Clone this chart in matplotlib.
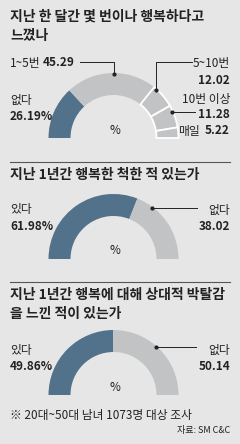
import numpy as np
import matplotlib
matplotlib.use("Agg")
import matplotlib.pyplot as plt

plt.rcParams['font.family'] = ['Noto Sans CJK KR', 'DejaVu Sans']

# --- data -------------------------------------------------------------
titles = ["지난 한 달간 몇 번이나 행복하다고\n느꼈나",
          "지난 1년간 행복한 척한 적 있는가",
          "지난 1년간 행복에 대해 상대적 박탈감\n을 느낀 적이 있는가"]

q1_labels = ["없다", "1~5번", "5~10번", "10번 이상", "매일"]
q1_values = [26.19, 45.29, 12.02, 11.28, 5.22]

q2_labels = ["있다", "없다"]
q2_values = [61.98, 38.02]

q3_labels = ["있다", "없다"]
q3_values = [49.86, 50.14]

note = "※ 20대~50대 남녀 1073명 대상 조사"
source = "자료: SM C&C"

# --- style ------------------------------------------------------------
W, H = 240, 444
BG = "#e6e6e6"
DARK = "#52718a"
GRAY = "#c2c3c5"
TXT = "#222222"
R_OUT, R_W = 65, 22
CX = 113.5


def Y(y):
    return H - y


fig = plt.figure(figsize=(W / 100, H / 100), dpi=100, facecolor=BG)
ax = fig.add_axes([0, 0, 1, 1])
ax.set_facecolor(BG)


def half_donut(values, cy, white_edges=False):
    vals = np.array(values) / 200.0
    colors = [DARK] + [GRAY] * (len(values) - 1)
    wedges, _ = ax.pie(vals, normalize=False, colors=colors, startangle=180,
                       counterclock=False, center=(CX, Y(cy)), radius=R_OUT,
                       wedgeprops=dict(width=R_W, linewidth=0))
    if white_edges:
        for w in wedges[2:]:
            w.set_edgecolor("white")
            w.set_linewidth(1.3)
    ax.text(CX + 1, Y(cy - 8), "%", ha="center", va="center", fontsize=8.5, color=TXT)
    return wedges


def anchor(values, i, frac, cy, r=64):
    start = 180 - sum(values[:i]) * 1.8
    ang = np.deg2rad(start - values[i] * 1.8 * frac)
    return CX + r * np.cos(ang), Y(cy) + r * np.sin(ang)


def leader(pts):
    xs, ys = zip(*pts)
    ax.plot(xs, ys, color=TXT, lw=0.7)
    ax.plot(xs[0], ys[0], "o", color=TXT, ms=2)


lab = dict(fontsize=8.5, color=TXT, va="center")
bold = dict(fontsize=8.5, color=TXT, va="center", fontweight="bold")
ttl = dict(fontsize=10, color=TXT, va="top", ha="left", fontweight="bold", linespacing=1.45)

# --- chart 1 ----------------------------------------------------------
ax.text(10, Y(10), titles[0], **ttl)
cy1 = 138
half_donut(q1_values, cy1, white_edges=True)

ax.text(10, Y(63), q1_labels[1], ha="left", **lab)
ax.text(43, Y(63), f"{q1_values[1]:.2f}", ha="left", **bold)
x, y = anchor(q1_values, 1, 0.53, cy1)
leader([(x, y), (x, Y(62)), (80, Y(62))])

ax.text(10, Y(100), q1_labels[0], ha="left", **lab)
ax.text(10, Y(117), f"{q1_values[0]:.2f}%", ha="left", **bold)

ax.text(230, Y(63), q1_labels[2], ha="right", **lab)
ax.text(230, Y(80), f"{q1_values[2]:.2f}", ha="right", **bold)
x, y = anchor(q1_values, 2, 0.13, cy1)
leader([(x, y), (x, Y(62)), (192, Y(62))])

ax.text(230, Y(99), q1_labels[3], ha="right", **lab)
ax.text(230, Y(115), f"{q1_values[3]:.2f}", ha="right", **bold)
x, y = anchor(q1_values, 3, 0.3, cy1)
leader([(x, y), (195, y)])

ax.text(200, Y(131), q1_labels[4], ha="right", **lab)
ax.text(230, Y(131), f"{q1_values[4]:.2f}", ha="right", **bold)

ax.plot([10, 230], [Y(162), Y(162)], color="#555555", lw=0.8)

# --- chart 2 ----------------------------------------------------------
ax.text(10, Y(168), titles[1], **ttl)
cy2 = 259
half_donut(q2_values, cy2)
ax.text(10, Y(210), q2_labels[0], ha="left", **lab)
ax.text(10, Y(227), f"{q2_values[0]:.2f}%", ha="left", **bold)
ax.text(230, Y(210), q2_labels[1], ha="right", **lab)
ax.text(230, Y(227), f"{q2_values[1]:.2f}", ha="right", **bold)
x, y = anchor(q2_values, 1, 0.23, cy2)
leader([(x, y), (197, y)])

ax.plot([10, 230], [Y(282), Y(282)], color="#555555", lw=0.8)

# --- chart 3 ----------------------------------------------------------
ax.text(10, Y(288), titles[2], **ttl)
cy3 = 395
half_donut(q3_values, cy3)
ax.text(10, Y(350), q3_labels[0], ha="left", **lab)
ax.text(10, Y(366), f"{q3_values[0]:.2f}%", ha="left", **bold)
ax.text(230, Y(350), q3_labels[1], ha="right", **lab)
ax.text(230, Y(366), f"{q3_values[1]:.2f}", ha="right", **bold)
x, y = anchor(q3_values, 1, 0.46, cy3)
leader([(x, y), (196, y)])

ax.text(10, Y(415), note, ha="left", va="center", fontsize=8.5, color=TXT)
ax.text(230, Y(430), source, ha="right", va="center", fontsize=6.5, color=TXT)

ax.set_xlim(0, W)
ax.set_ylim(0, H)
ax.set_aspect("auto")
ax.axis("off")

fig.savefig("out.png", dpi=100, facecolor=BG)
